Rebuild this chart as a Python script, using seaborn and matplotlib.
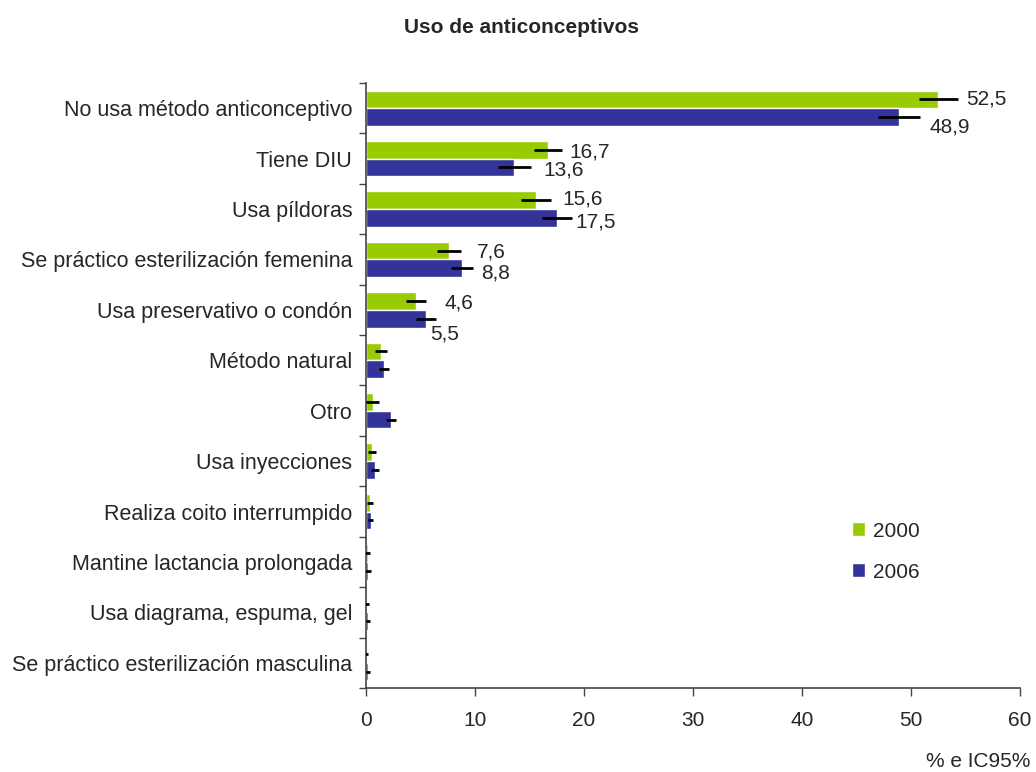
import matplotlib
matplotlib.use("Agg")
import matplotlib.pyplot as plt
import seaborn as sns
import pandas as pd
import numpy as np

categories = [
    "No usa método anticonceptivo",
    "Tiene DIU",
    "Usa píldoras",
    "Se práctico esterilización femenina",
    "Usa preservativo o condón",
    "Método natural",
    "Otro",
    "Usa inyecciones",
    "Realiza coito interrumpido",
    "Mantine lactancia prolongada",
    "Usa diagrama, espuma, gel",
    "Se práctico esterilización masculina",
]
years = ["2000", "2006"]
values_2000 = [52.5, 16.7, 15.6, 7.6, 4.6, 1.4, 0.6, 0.55, 0.35, 0.15, 0.1, 0.05]
values_2006 = [48.9, 13.6, 17.5, 8.8, 5.5, 1.65, 2.3, 0.8, 0.45, 0.2, 0.2, 0.18]
ci_2000 = [1.8, 1.3, 1.4, 1.1, 0.9, 0.55, 0.6, 0.37, 0.3, 0.25, 0.2, 0.15]
ci_2006 = [1.9, 1.5, 1.4, 1.0, 0.9, 0.45, 0.45, 0.37, 0.23, 0.25, 0.2, 0.15]
labeled = 5  # number of categories with value labels

# label placement styling (offsets in data units / category units)
lab_dx_2000 = [2.6, 2.0, 2.4, 2.6, 2.6]
lab_dy_2000 = [0.0, 0.04, -0.03, 0.03, 0.03]
lab_dx_2006 = [2.8, 2.7, 1.7, 1.8, 0.4]
lab_dy_2006 = [0.2, 0.05, 0.09, 0.1, 0.3]

colors = {"2000": "#99CC00", "2006": "#333399"}
FS = 15

sns.set_theme(style="white")
plt.rcParams["font.family"] = ["Liberation Sans", "DejaVu Sans"]

df = pd.DataFrame({
    "cat": categories * 2,
    "year": [years[0]] * len(categories) + [years[1]] * len(categories),
    "val": values_2000 + values_2006,
})

fig = plt.figure(figsize=(10.36, 7.72), dpi=100)
ax = fig.add_axes([0.3533, 0.1088, 0.6313, 0.7837])

sns.barplot(data=df, y="cat", x="val", hue="year", order=categories,
            hue_order=years, palette=colors, orient="h", width=0.7, gap=0,
            errorbar=None, saturation=1, ax=ax, legend=True)

n = len(categories)
series = [(values_2000, ci_2000, lab_dx_2000, lab_dy_2000),
          (values_2006, ci_2006, lab_dx_2006, lab_dy_2006)]
for h, (vals, cis, ldx, ldy) in enumerate(series):
    cont = ax.containers[h]
    for i, (bar, v, c) in enumerate(zip(cont, vals, cis)):
        yc = bar.get_y() + bar.get_height() / 2
        ax.errorbar(v, yc, xerr=c, fmt="none", ecolor="black", elinewidth=2, capsize=0, zorder=5)
        if i < labeled:
            ax.text(v + ldx[i], yc + ldy[i], f"{v:.1f}".replace(".", ","),
                    va="center", ha="left", fontsize=FS)

ax.set_xlim(0, 60)
ax.set_ylim(n - 0.5, -0.5)
ax.set_xticks(np.arange(0, 61, 10))
ax.set_xlabel("")
ax.set_ylabel("")
ax.tick_params(axis="x", labelsize=FS, length=6, width=1, color="#444444",
               direction="out", bottom=True, pad=10.5)
ax.tick_params(axis="y", which="major", labelsize=15.5, length=0, pad=10)
ax.set_yticks(np.arange(-0.5, n, 1.0), minor=True)
ax.tick_params(axis="y", which="minor", length=5, width=1, color="#444444",
               direction="out", left=True)
for s in ["top", "right"]:
    ax.spines[s].set_visible(False)
for s in ["left", "bottom"]:
    ax.spines[s].set_color("#444444")
    ax.spines[s].set_linewidth(1.2)

leg = ax.legend(loc="upper left", bbox_to_anchor=(0.743, 0.275), frameon=False,
                fontsize=FS, handlelength=0.63, handleheight=0.63, labelspacing=1.05,
                handletextpad=0.4, borderpad=0, borderaxespad=0)

fig.text(0.503, 0.965, "Uso de anticonceptivos", ha="center", va="center",
         fontsize=FS, fontweight="bold")
fig.text(0.944, 0.014, "% e IC95%", ha="center", va="center", fontsize=FS)

fig.savefig("out.png", dpi=100, facecolor="white")
